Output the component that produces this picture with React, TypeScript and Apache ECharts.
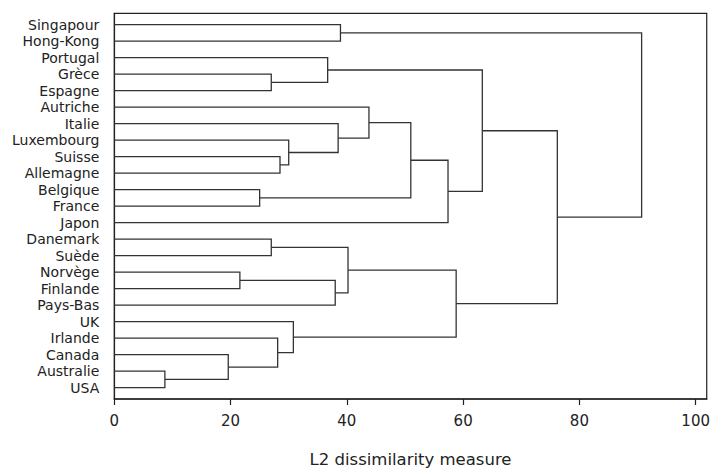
import React, { useEffect, useRef } from "react";
import * as echarts from "echarts";

// Leaves, top to bottom
const countries: string[] = [
  "Singapour", "Hong-Kong", "Portugal", "Grèce", "Espagne", "Autriche", "Italie",
  "Luxembourg", "Suisse", "Allemagne", "Belgique", "France", "Japon", "Danemark",
  "Suède", "Norvège", "Finlande", "Pays-Bas", "UK", "Irlande", "Canada", "Australie", "USA",
];

// Merges: [child A, child B, height]; merge k is referred to as "m" + k
const merges: [string, string, number][] = [
  ["Australie", "USA", 8.7],     // m0
  ["Canada", "m0", 19.6],        // m1
  ["Norvège", "Finlande", 21.6], // m2
  ["Belgique", "France", 25.0],  // m3
  ["Grèce", "Espagne", 27.0],    // m4
  ["Danemark", "Suède", 27.0],   // m5
  ["Irlande", "m1", 28.1],       // m6
  ["Suisse", "Allemagne", 28.5], // m7
  ["Luxembourg", "m7", 30.0],    // m8
  ["UK", "m6", 30.8],            // m9
  ["Portugal", "m4", 36.7],      // m10
  ["m2", "Pays-Bas", 38.0],      // m11
  ["Italie", "m8", 38.5],        // m12
  ["Singapour", "Hong-Kong", 38.9], // m13
  ["m5", "m11", 40.2],           // m14
  ["Autriche", "m12", 43.8],     // m15
  ["m15", "m3", 51.0],           // m16
  ["m16", "Japon", 57.4],        // m17
  ["m14", "m9", 58.8],           // m18
  ["m10", "m17", 63.3],          // m19
  ["m19", "m18", 76.2],          // m20
  ["m13", "m20", 90.7],          // m21
];

const xTicks: number[] = [0, 20, 40, 60, 80, 100];
const xName = "L2 dissimilarity measure";

function buildLinks() {
  const pos: Record<string, number> = {};
  const height: Record<string, number> = {};
  countries.forEach((c, i) => {
    pos[c] = i;
    height[c] = 0;
  });
  const links: { coords: number[][] }[] = [];
  merges.forEach(([a, b, h], k) => {
    const id = "m" + k;
    links.push({
      coords: [
        [height[a], pos[a]],
        [h, pos[a]],
        [h, pos[b]],
        [height[b], pos[b]],
      ],
    });
    pos[id] = (pos[a] + pos[b]) / 2;
    height[id] = h;
  });
  return links;
}

export default function App() {
  const ref = useRef<HTMLDivElement>(null);
  useEffect(() => {
    if (!ref.current) return;
    const chart = echarts.init(ref.current, null, { renderer: "svg" });
    const font = "DejaVu Sans";
    chart.setOption({
      animation: false,
      backgroundColor: "#ffffff",
      grid: {
        left: 114.3,
        top: 13.3,
        right: 1.3,
        bottom: 61.3,
        show: true,
        borderColor: "#222",
        borderWidth: 1.2,
        backgroundColor: "transparent",
      },
      xAxis: {
        type: "value",
        min: 0,
        max: 101.9,
        interval: 20,
        name: xName,
        nameLocation: "middle",
        nameGap: 52,
        nameTextStyle: { fontFamily: font, fontSize: 16.5, color: "#222" },
        axisLine: { show: true, onZero: false, lineStyle: { color: "#222", width: 1.6 } },
        axisTick: { show: true, length: 6, customValues: xTicks, lineStyle: { color: "#222", width: 1.2 } },
        axisLabel: {
          customValues: xTicks,
          fontFamily: font,
          fontSize: 15,
          color: "#222",
          margin: 14,
        },
        splitLine: { show: false },
      },
      yAxis: {
        type: "value",
        inverse: true,
        min: -0.686,
        max: countries.length - 1 + 0.686,
        splitNumber: countries.length,
        minInterval: 1,
        maxInterval: 1,
        axisLine: { show: true, onZero: false, lineStyle: { color: "#222", width: 1.2 } },
        axisTick: { show: false },
        axisLabel: {
          fontFamily: font,
          fontSize: 14,
          lineHeight: 14,
          color: "#222",
          margin: 15,
          padding: [4, 0, 0, 0],
          formatter: (v: number) =>
            Number.isInteger(v) && v >= 0 && v < countries.length ? countries[v] : "",
        },
        splitLine: { show: false },
      },
      series: [
        {
          type: "lines",
          coordinateSystem: "cartesian2d",
          polyline: true,
          silent: true,
          lineStyle: { color: "#333", width: 1.3, opacity: 1 },
          data: buildLinks(),
        },
      ],
    });
    return () => chart.dispose();
  }, []);
  return (
    <div
      ref={ref}
      style={{ position: "absolute", left: 0, top: 0, width: 713, height: 473 }}
    />
  );
}
